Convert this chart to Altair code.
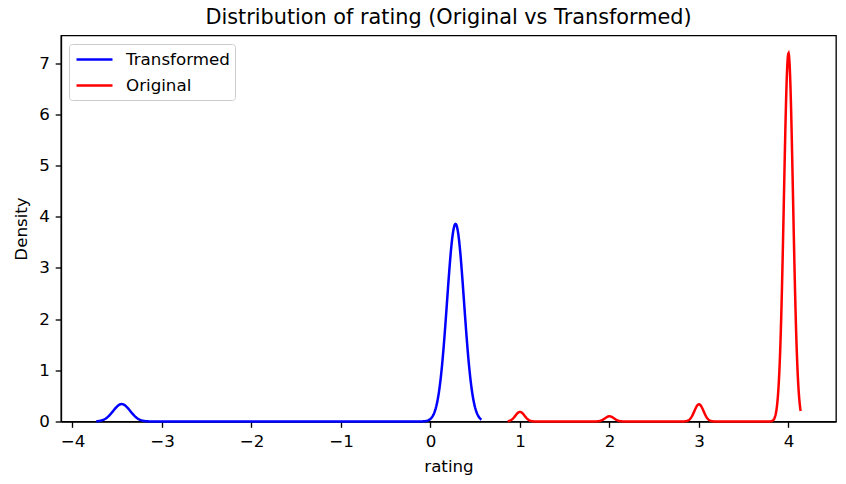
import altair as alt
import pandas as pd

# ---- data ----
orig_ratings = [1, 2, 3, 4]
orig_counts = [24, 13, 43, 918]
trans_ratings = [-3.45, 0.28]
trans_counts = [81, 919]
x_ticks = [-4, -3, -2, -1, 0, 1, 2, 3, 4]
y_ticks = [0, 1, 2, 3, 4, 5, 6, 7]
series_names = ["Transformed", "Original"]
series_colors = ["#0000ff", "#ff0000"]

orig_df = pd.DataFrame(
    {"rating": [v for v, c in zip(orig_ratings, orig_counts) for _ in range(c)]}
)
trans_df = pd.DataFrame(
    {"rating": [v for v, c in zip(trans_ratings, trans_counts) for _ in range(c)]}
)

FONT = "DejaVu Sans"

x_enc = alt.X(
    "rating:Q",
    scale=alt.Scale(domain=[-4.128, 4.531], nice=False, zero=False),
    axis=alt.Axis(values=x_ticks, title="rating", format="d"),
)
y_enc = alt.Y(
    "density:Q",
    scale=alt.Scale(domain=[0, 7.54], nice=False, zero=True),
    axis=alt.Axis(values=y_ticks, title="Density", format="d"),
)
color_enc = alt.Color(
    "series:N",
    scale=alt.Scale(domain=series_names, range=series_colors),
    legend=alt.Legend(
        title=None,
        orient="none",
        legendX=8,
        legendY=8.5,
        symbolType="M-0.889,0H3.111",
        symbolSize=324,
        symbolStrokeWidth=2.5,
        labelFontSize=16.7,
        labelFont=FONT,
        labelColor="black",
        fillColor="white",
        strokeColor="#cccccc",
        cornerRadius=3,
        padding=5,
        rowPadding=6,
        labelOffset=31,
    ),
)

trans = (
    alt.Chart(trans_df)
    .transform_density(
        "rating", as_=["rating", "density"], bandwidth=0.095,
        extent=[-3.734, 0.57], steps=800,
    )
    .transform_calculate(series="'Transformed'")
    .mark_line(strokeWidth=2.5)
    .encode(x=x_enc, y=y_enc, color=color_enc)
)

orig = (
    alt.Chart(orig_df)
    .transform_density(
        "rating", as_=["rating", "density"], bandwidth=0.051,
        extent=[0.863, 4.136], steps=800,
    )
    .transform_calculate(series="'Original'")
    .mark_line(strokeWidth=2.5)
    .encode(x=x_enc, y=y_enc, color=color_enc)
)

chart = (
    alt.layer(trans, orig)
    .properties(
        width=775,
        height=386,
        autosize="none",
        padding={"left": 61, "top": 35.5, "right": 10, "bottom": 62.5},
        title=alt.TitleParams(
            "Distribution of rating (Original vs Transformed)",
            font=FONT, fontSize=20.8, fontWeight="normal", color="black",
            anchor="middle", baseline="bottom", offset=6, dy=19,
        ),
    )
    .configure_view(stroke="black", strokeWidth=1.33)
    .configure_axis(
        grid=False,
        domainColor="black", domainWidth=1.33,
        tickColor="black", tickWidth=1.33, tickSize=5.8,
        labelPadding=5.8, labelFontSize=16.7, labelFont=FONT, labelColor="black",
        titleFont=FONT, titleFontSize=16.7, titleFontWeight="normal",
        titleColor="black", titlePadding=8.5,
    )
)

chart.save("out.html", embed_options={"renderer": "svg", "actions": False})
